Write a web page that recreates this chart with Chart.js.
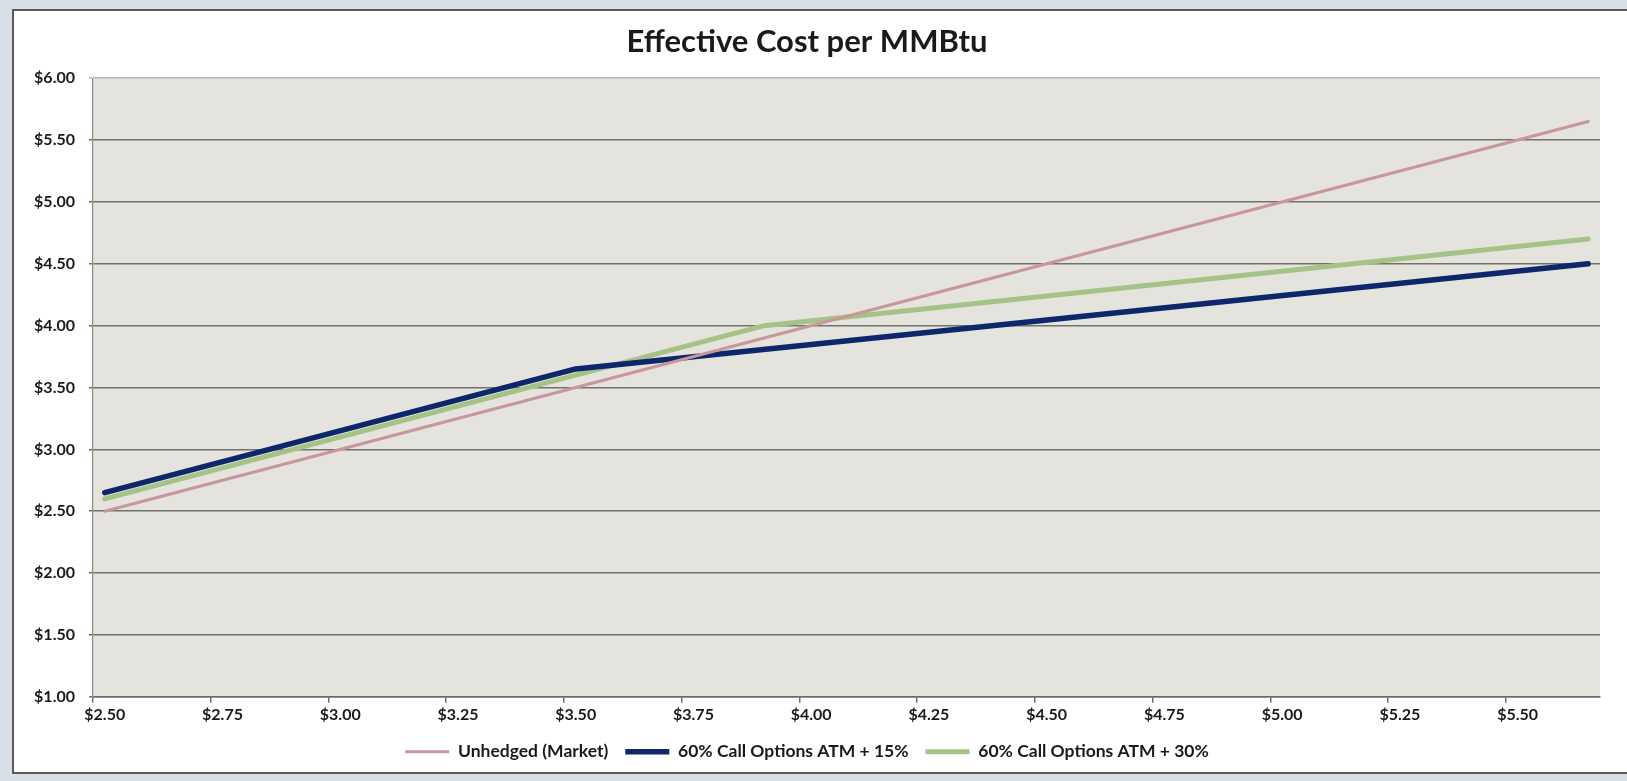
<!DOCTYPE html>
<html>
<head>
<meta charset="utf-8">
<script src="https://cdn.jsdelivr.net/npm/chart.js@4.4.1/dist/chart.umd.min.js"></script>
<style>
  html, body { margin: 0; padding: 0; width: 1627px; height: 781px; overflow: hidden; background: #d9dfe6; }
  #frame { position: absolute; left: 12px; top: 9px; width: 1615px; height: 761px; border: 2px solid #5a5a5a; border-right: none; background: #ffffff; }
  #wrap { position: relative; width: 1615px; height: 757px; }
</style>
</head>
<body>
<div id="frame"><div id="wrap"><canvas id="c"></canvas></div></div>
<script>
// Category axis: market price per MMBtu ($0.05 steps)
const categories = [
  '$2.50','$2.55','$2.60','$2.65','$2.70','$2.75','$2.80','$2.85','$2.90','$2.95',
  '$3.00','$3.05','$3.10','$3.15','$3.20','$3.25','$3.30','$3.35','$3.40','$3.45',
  '$3.50','$3.55','$3.60','$3.65','$3.70','$3.75','$3.80','$3.85','$3.90','$3.95',
  '$4.00','$4.05','$4.10','$4.15','$4.20','$4.25','$4.30','$4.35','$4.40','$4.45',
  '$4.50','$4.55','$4.60','$4.65','$4.70','$4.75','$4.80','$4.85','$4.90','$4.95',
  '$5.00','$5.05','$5.10','$5.15','$5.20','$5.25','$5.30','$5.35','$5.40','$5.45',
  '$5.50','$5.55','$5.60','$5.65'
];

const seriesNames = ['Unhedged (Market)', '60% Call Options ATM + 15%', '60% Call Options ATM + 30%'];

// Series breakpoints (piecewise-linear lines)
const unhedgedX = ['$2.50', '$5.65'];
const unhedgedY = [2.50, 5.65];

const atm15X = ['$2.50', '$3.50', '$5.65'];
const atm15Y = [2.65, 3.65, 4.50];

const atm30X = ['$2.50', '$3.90', '$5.65'];
const atm30Y = [2.60, 4.00, 4.70];

const yMin = 1.00, yMax = 6.00, yStep = 0.50;
const labelEvery = 5;

function pts(xs, ys) { return xs.map((x, i) => ({ x: x, y: ys[i] })); }

const plotBg = {
  id: 'plotBg',
  beforeDraw(chart) {
    const { ctx, chartArea: a } = chart;
    ctx.save();
    ctx.fillStyle = '#e4e3dd';
    ctx.fillRect(a.left, a.top, a.right - a.left, a.bottom - a.top);
    ctx.restore();
  }
};

const FONT = 'Lato, "Open Sans", "DejaVu Sans", sans-serif';

new Chart(document.getElementById('c'), {
  type: 'line',
  data: {
    labels: categories,
    datasets: [
      { label: seriesNames[0], data: pts(unhedgedX, unhedgedY), borderColor: '#c7979b', backgroundColor: '#c7979b', borderWidth: 3, pointRadius: 0, pointStyle: 'line', tension: 0, borderCapStyle: 'round', borderJoinStyle: 'round' },
      { label: seriesNames[1], data: pts(atm15X, atm15Y), borderColor: '#0d276a', backgroundColor: '#0d276a', borderWidth: 5.5, pointRadius: 0, pointStyle: 'line', tension: 0, borderCapStyle: 'round', borderJoinStyle: 'round' },
      { label: seriesNames[2], data: pts(atm30X, atm30Y), borderColor: '#a6c387', backgroundColor: '#a6c387', borderWidth: 5, pointRadius: 0, pointStyle: 'line', tension: 0, borderCapStyle: 'round', borderJoinStyle: 'round' }
    ]
  },
  options: {
    responsive: true,
    maintainAspectRatio: false,
    animation: false,
    layout: { padding: { left: 0, right: 29, top: 0, bottom: 0 } },
    plugins: {
      title: {
        display: true,
        text: 'Effective Cost per MMBtu',
        color: '#1a1a1a',
        font: { family: FONT, size: 31, weight: 'bold' },
        padding: { top: 12, bottom: 18 }
      },
      legend: {
        position: 'bottom',
        maxHeight: 42,
        labels: {
          color: '#1a1a1a',
          font: { family: FONT, size: 17.5, weight: 'bold' },
          usePointStyle: true,
          pointStyleWidth: 44,
          boxHeight: 5,
          padding: 17
        }
      },
      tooltip: { enabled: false }
    },
    scales: {
      x: {
        type: 'category',
        offset: true,
        border: { display: true, color: '#6d6d68', width: 1.5 },
        grid: {
          offset: true,
          drawOnChartArea: false,
          drawTicks: true,
          tickLength: 6,
          tickColor: (ctx) => (ctx.index % labelEvery === 0 ? '#6d6d68' : 'rgba(0,0,0,0)'),
          lineWidth: 1.5
        },
        ticks: {
          autoSkip: false,
          maxRotation: 0,
          minRotation: 0,
          padding: 2,
          color: '#1a1a1a',
          font: { family: FONT, size: 16, weight: 'bold' },
          callback: (v, i) => (i % labelEvery === 0 ? categories[i] : '')
        }
      },
      y: {
        min: yMin,
        max: yMax,
        afterFit: (s) => { s.width = 79; },
        border: { display: true, color: '#8a8a84', width: 1.2 },
        grid: {
          color: (ctx) => (ctx.tick && ctx.tick.value === yMax ? '#b5b4ad' : '#72726b'),
          lineWidth: 1.5,
          tickLength: 4,
          drawTicks: true
        },
        ticks: {
          stepSize: yStep,
          padding: 14,
          color: '#1a1a1a',
          font: { family: FONT, size: 16, weight: 'bold' },
          callback: (v) => '$' + Number(v).toFixed(2)
        }
      }
    }
  },
  plugins: [plotBg]
});
</script>
</body>
</html>
